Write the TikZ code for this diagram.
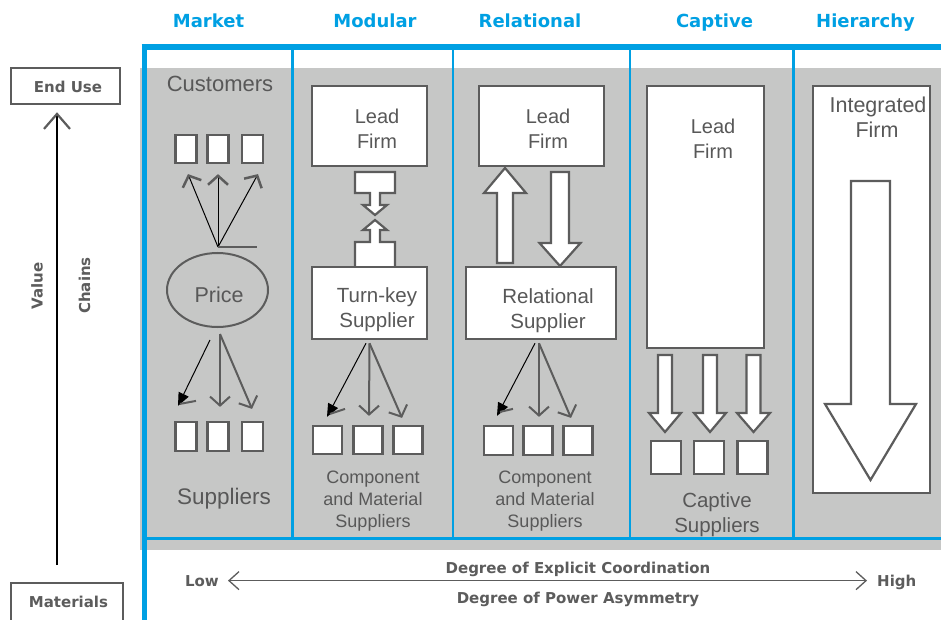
\documentclass[tikz,border=0pt]{standalone}
\usepackage{fontspec}
\setmainfont{Liberation Sans}
\newfontfamily\dvfont{DejaVu Sans}
\usetikzlibrary{arrows.meta,shapes.geometric}
\definecolor{cblue}{RGB}{0,160,227}
\definecolor{bgray}{RGB}{198,199,198}
\definecolor{dgray}{RGB}{92,92,92}
\definecolor{tgray}{RGB}{88,88,88}
\newcommand{\dnblk}[6]{\draw[blk] (#1-#3,#2) -- (#1+#3,#2) -- (#1+#3,#4) -- (#1+#5,#4) -- (#1,#6) -- (#1-#5,#4) -- (#1-#3,#4) -- cycle;}
\begin{document}
\begin{tikzpicture}[x=1pt,y=-1pt,
  hdr/.style={text=cblue, font=\dvfont\bfseries\fontsize{18}{20}\selectfont, anchor=base, inner sep=0},
  lbl/.style={text=dgray, font=\dvfont\bfseries\fontsize{15}{17}\selectfont, inner sep=0},
  txt/.style={text=tgray, anchor=base, inner sep=0, font=\fontsize{#1}{#1}\selectfont},
  txt/.default=20,
  box/.style={draw=dgray, line width=2.5pt, fill=white, inner sep=0},
  sbox/.style={draw=dgray, line width=2.2pt, fill=white, inner sep=0},
  blk/.style={draw=dgray, line width=2.2pt, fill=white, line join=miter},
  tt/.style={black, line width=1pt, -{Straight Barb[length=9pt,width=20pt,line width=2.5pt 0,color=dgray]}},
  ga/.style={dgray, line width=2pt, -{Straight Barb[length=9pt,width=20pt]}},
  tri/.style={black, line width=1pt, -{Triangle[length=13pt,width=11pt]}},
  stray/.style={dgray, line width=2pt}
]
\useasboundingbox (0,0) rectangle (941,620);
\fill[white] (0,0) rectangle (941,620);
\fill[bgray] (140,68) rectangle (941,550);
% blue frame
\draw[cblue, line width=5.5pt] (141.5,47) -- (941,47);
\draw[cblue, line width=5pt] (144,44.5) -- (144,620);
\foreach \x in {292.5,453,630,793.5} \draw[cblue, line width=2.6pt] (\x,47) -- (\x,538.5);
\draw[cblue, line width=3pt] (144,538.5) -- (941,538.5);

% headers
\node[hdr] (hm) at (208.5,28) {Market};
\node[hdr] (hmo) at (375,28) {Modular};
\node[hdr] (hr) at (530,28) {Relational};
\node[hdr] (hc) at (714.5,28) {Captive};
\node[hdr] (hh) at (865.5,28) {Hierarchy};

% left axis
\node[draw=dgray, line width=2.5pt, minimum width=109pt, minimum height=36pt, inner sep=0] (endU) at (65.5,86) {};
\node[lbl, anchor=base] (endUt) at (68,92.5) {End Use};
\node[draw=dgray, line width=2.5pt, minimum width=112pt, minimum height=50pt, inner sep=0] (mat) at (67,608) {};
\node[lbl, anchor=base] (matt) at (68.5,607) {Materials};
\coordinate (vbot) at (57,565);
\draw[black, line width=2pt, shorten >=7pt, -{Straight Barb[length=15pt,width=26pt,line width=2.2pt,color=dgray]}] (vbot) -- (vbot |- endU.south);
\node[lbl, rotate=90, anchor=base] (val) at (42.5,286) {Value};
\node[lbl, rotate=90, anchor=base] (chn) at (90,285.5) {Chains};

% bottom axis
\node[lbl, anchor=base east] (low) at (219,586) {Low};
\node[lbl, anchor=base west] (high) at (877,586) {High};
\draw[dgray, line width=1.3pt, {Straight Barb[length=10pt,width=18pt]}-{Straight Barb[length=10pt,width=18pt]}, shorten <=9pt, shorten >=10pt] (low.east) -- (low.east -| high.west);
\node[lbl, anchor=base] (dec) at (578,573.5) {Degree of Explicit Coordination};
\node[lbl, anchor=base] (dpa) at (578,603) {Degree of Power Asymmetry};

% ---------- Market ----------
\node[txt=22] (cust) at (220,92) {Customers};
\foreach \n/\x in {1/186,2/218,3/252.5} \node[sbox, minimum width=21pt, minimum height=28pt] (mc\n) at (\x,149) {};
\coordinate (mhub) at (218,247);
\draw[tt] (mhub) -- ([shift={(2,10)}]mc1.south);
\draw[tt] (mhub) -- ([shift={(0,10)}]mc2.south);
\draw[tt] (mhub) -- ([shift={(5.5,10)}]mc3.south);
\draw[stray] (mhub) -- ++(39,0);
\node[draw=dgray, line width=2pt, ellipse, minimum width=101pt, minimum height=74pt, inner sep=0] (price) at (217.5,290) {};
\node[txt=21.5] (pricet) at (219,302) {Price};
\foreach \n/\x in {1/186,2/218,3/252.5} \node[sbox, minimum width=21pt, minimum height=29pt] (sb\n) at (\x,436.5) {};
\draw[tri] ([shift={(-7.5,12)}]price.south) -- ([shift={(-8,-15)}]sb1.north);
\draw[stray] ([shift={(-6,-17)}]sb1.north) -- ++(16,-3);
\draw[ga] ([shift={(2.5,6)}]price.south) -- ([shift={(2,-14)}]sb2.north);
\draw[ga] ([shift={(2.5,6)}]price.south) -- ([shift={(-0.5,-12)}]sb3.north);
\node[txt=22.5] (supt) at (224,504) {Suppliers};

% ---------- Modular ----------
\draw[blk] (355,172) -- (395,172) -- (395,193) -- (380,193) -- (380,205) -- (387,205) -- (375,215) -- (363,205) -- (370,205) -- (370,193) -- (355,193) -- cycle;
\draw[blk] (355,268) -- (355,242) -- (370,242) -- (370,230) -- (363,230) -- (375,220) -- (387,230) -- (380,230) -- (380,242) -- (395,242) -- (395,268) -- cycle;
\node[box, minimum width=115pt, minimum height=80pt] (mlead) at (369.5,126) {};
\node[txt] (ml1) at (377,124) {Lead};
\node[txt] (ml2) at (377,149) {Firm};
\node[box, minimum width=115pt, minimum height=72pt] (tk) at (369.5,303) {};
\node[txt=20.5] (tk1) at (377,302) {Turn-key};
\node[txt=20.5] (tk2) at (377,327) {Supplier};
\foreach \n/\x in {1/327.5,2/368,3/408} \node[sbox, minimum width=29pt, minimum height=28pt] (mb\n) at (\x,440) {};
\draw[tri] ([shift={(-3.5,3)}]tk.south) -- ([shift={(-0.5,-8)}]mb1.north);
\draw[stray] ([shift={(2.5,-11)}]mb1.north) -- ++(15,-5);
\draw[ga] ([shift={(0,3)}]tk.south) -- ([shift={(1,-9)}]mb2.north);
\draw[ga] ([shift={(0,3)}]tk.south) -- ([shift={(-6,-7)}]mb3.north);
\node[txt=18] (mcs1) at (373,483) {Component};
\node[txt=18] (mcs2) at (373,505) {and Material};
\node[txt=18] (mcs3) at (373,527) {Suppliers};

% ---------- Relational ----------
\draw[blk] (497,263) -- (497,193) -- (484,193) -- (505,168) -- (526,193) -- (513,193) -- (513,263) -- cycle;
\dnblk{560}{172}{9}{243}{20.5}{266}
\node[box, minimum width=125pt, minimum height=80pt] (rlead) at (541.5,126) {};
\node[txt] (rl1) at (548,124) {Lead};
\node[txt] (rl2) at (548,149) {Firm};
\node[box, minimum width=150pt, minimum height=72pt] (rs) at (541,303) {};
\node[txt=20.5] (rs1) at (548,303) {Relational};
\node[txt=20.5] (rs2) at (548,328) {Supplier};
\foreach \n/\x in {1/498.5,2/538,3/578} \node[sbox, minimum width=29pt, minimum height=29pt] (rb\n) at (\x,440.5) {};
\draw[tri] ([shift={(-6,3)}]rs.south) -- ([shift={(-1.5,-9)}]rb1.north);
\draw[stray] ([shift={(1.5,-13)}]rb1.north) -- ++(13,-3);
\draw[ga] ([shift={(-2,3)}]rs.south) -- ([shift={(1,-8)}]rb2.north);
\draw[ga] ([shift={(-2,3)}]rs.south) -- ([shift={(-7,-7)}]rb3.north);
\node[txt=18] (rcs1) at (545,483) {Component};
\node[txt=18] (rcs2) at (545,505) {and Material};
\node[txt=18] (rcs3) at (545,527) {Suppliers};

% ---------- Captive ----------
\node[box, minimum width=117pt, minimum height=262pt] (clead) at (705.5,217) {};
\node[txt] (cl1) at (713,134) {Lead};
\node[txt] (cl2) at (713,159) {Firm};
\dnblk{665}{355}{7}{413}{16}{432}
\dnblk{710}{355}{7}{413}{16}{432}
\dnblk{753.5}{355}{7}{413}{16.5}{432}
\foreach \n/\x in {1/666,2/709,3/752.5} \node[sbox, minimum width=30pt, minimum height=33pt] (cb\n) at (\x,457.5) {};
\node[txt=20.5] (cs1) at (717,507) {Captive};
\node[txt=20.5] (cs2) at (717,532) {Suppliers};

% ---------- Hierarchy ----------
\node[box, minimum width=117pt, minimum height=407pt] (hfirm) at (871.5,289.5) {};
\node[txt=21.5] (hf1) at (878,113) {Integrated};
\node[txt=21.5] (hf2) at (877,138) {Firm};
\dnblk{870.5}{181}{19.5}{404}{45.5}{480}
\end{tikzpicture}
\end{document}
